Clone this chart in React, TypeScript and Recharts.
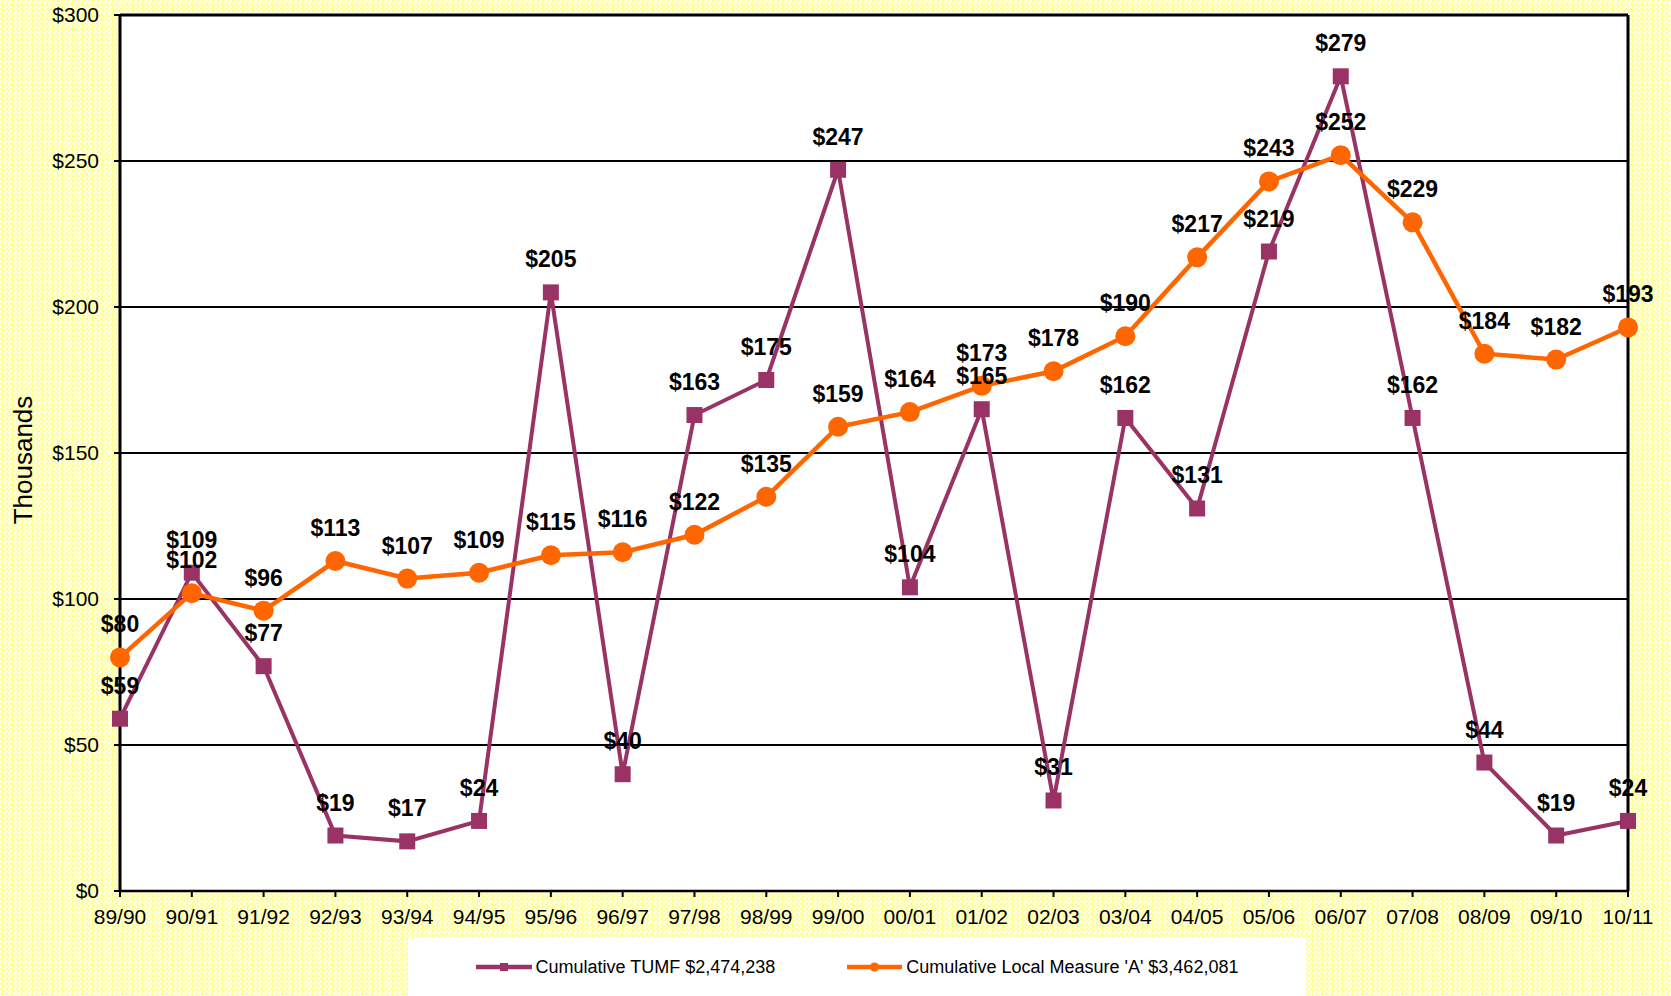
import React from 'react';
import {
  LineChart,
  Line,
  XAxis,
  YAxis,
  CartesianGrid,
  LabelList,
  Legend,
  ReferenceLine,
  Label,
} from 'recharts';

const categories = [
  '89/90', '90/91', '91/92', '92/93', '93/94', '94/95', '95/96', '96/97', '97/98', '98/99', '99/00',
  '00/01', '01/02', '02/03', '03/04', '04/05', '05/06', '06/07', '07/08', '08/09', '09/10', '10/11',
];
const tumfValues = [59, 109, 77, 19, 17, 24, 205, 40, 163, 175, 247, 104, 165, 31, 162, 131, 219, 279, 162, 44, 19, 24];
const localAValues = [80, 102, 96, 113, 107, 109, 115, 116, 122, 135, 159, 164, 173, 178, 190, 217, 243, 252, 229, 184, 182, 193];
const yTicks = [0, 50, 100, 150, 200, 250, 300];
const tumfName = 'Cumulative TUMF $2,474,238';
const localName = "Cumulative Local Measure 'A' $3,462,081";

const TUMF_COLOR = '#993366';
const LOCAL_COLOR = '#FF6600';
const FONT = '"Liberation Sans", Arial, sans-serif';

const data = categories.map((c, i) => ({ cat: c, tumf: tumfValues[i], local: localAValues[i] }));

const SquareDot = (props: any) => {
  const { cx, cy, index } = props;
  if (cx == null || cy == null) return <g key={index} />;
  return <rect key={index} x={cx - 8} y={cy - 8} width={16} height={16} fill={TUMF_COLOR} />;
};

const LegendContent = () => (
  <div
    style={{
      width: '100%',
      height: '100%',
      background: '#ffffff',
      display: 'flex',
      alignItems: 'center',
      justifyContent: 'center',
      gap: 72,
      fontFamily: FONT,
      fontSize: 18,
      color: '#000',
    }}
  >
    <div style={{ display: 'flex', alignItems: 'center' }}>
      <svg width={56} height={14} style={{ marginRight: 4 }}>
        <line x1={0} y1={7} x2={56} y2={7} stroke={TUMF_COLOR} strokeWidth={4.5} />
        <rect x={24} y={3} width={8} height={8} fill={TUMF_COLOR} />
      </svg>
      <span>{tumfName}</span>
    </div>
    <div style={{ display: 'flex', alignItems: 'center' }}>
      <svg width={55} height={14} style={{ marginRight: 4 }}>
        <line x1={0} y1={7} x2={55} y2={7} stroke={LOCAL_COLOR} strokeWidth={4.5} />
        <circle cx={27.5} cy={7} r={4.5} fill={LOCAL_COLOR} />
      </svg>
      <span>{localName}</span>
    </div>
  </div>
);

const labelStyle = { fontWeight: 'bold' as const, fontSize: 23, fontFamily: FONT };

export default function App() {
  return (
    <div
      style={{
        position: 'absolute',
        left: 0,
        top: 0,
        width: 1671,
        height: 996,
        background: 'repeating-conic-gradient(#ffff99 0% 25%, #ffffe8 0% 50%) 0 0 / 5px 5px',
        fontFamily: FONT,
        overflow: 'hidden',
      }}
    >
      <LineChart
        width={1671}
        height={996}
        data={data}
        margin={{ top: 15, right: 43, bottom: 65, left: 0 }}
        style={{ fontFamily: FONT }}
      >
        <CartesianGrid vertical={false} stroke="#000" strokeWidth={2} fill="#ffffff" fillOpacity={1} />
        <XAxis
          dataKey="cat"
          interval={0}
          height={40}
          tickSize={6}
          tickMargin={12}
          axisLine={{ stroke: '#000', strokeWidth: 2.5 }}
          tickLine={{ stroke: '#000', strokeWidth: 2 }}
          tick={{ fill: '#000', fontSize: 21, fontFamily: FONT }}
        />
        <YAxis
          domain={[0, 300]}
          ticks={yTicks}
          width={120}
          tickSize={6}
          tickMargin={15}
          tickFormatter={(v: number) => `$${v}`}
          axisLine={{ stroke: '#000', strokeWidth: 3 }}
          tickLine={{ stroke: '#000', strokeWidth: 2 }}
          tick={{ fill: '#000', fontSize: 21, fontFamily: FONT }}
        >
          <Label
            content={(props: any) => {
              const vb = props.viewBox || { x: 0, y: 15, width: 120, height: 876 };
              const x = 22.5;
              const y = vb.y + vb.height / 2 + 7;
              return (
                <text
                  x={x}
                  y={y}
                  transform={`rotate(-90, ${x}, ${y})`}
                  textAnchor="middle"
                  dominantBaseline="central"
                  fontSize={26}
                  fontFamily={FONT}
                  fill="#000"
                >
                  Thousands
                </text>
              );
            }}
          />
        </YAxis>
        <ReferenceLine y={300} stroke="#000" strokeWidth={3} />
        <ReferenceLine x="10/11" stroke="#000" strokeWidth={3} />
        <Legend
          layout="horizontal"
          verticalAlign="middle"
          align="center"
          content={() => <LegendContent />}
          wrapperStyle={{ position: 'absolute', left: 408, top: 938, width: 898, height: 58 }}
        />
        <Line
          type="linear"
          dataKey="tumf"
          name={tumfName}
          stroke={TUMF_COLOR}
          strokeWidth={4}
          dot={SquareDot}
          activeDot={false}
          isAnimationActive={false}
        >
          <LabelList
            dataKey="tumf"
            position="top"
            offset={25}
            formatter={(v: any) => `$${v}`}
            fill="#000"
            style={labelStyle}
          />
        </Line>
        <Line
          type="linear"
          dataKey="local"
          name={localName}
          stroke={LOCAL_COLOR}
          strokeWidth={4.5}
          dot={{ r: 10, fill: LOCAL_COLOR, stroke: LOCAL_COLOR, strokeWidth: 0 }}
          activeDot={false}
          isAnimationActive={false}
        >
          <LabelList
            dataKey="local"
            position="top"
            offset={25}
            formatter={(v: any) => `$${v}`}
            fill="#000"
            style={labelStyle}
          />
        </Line>
      </LineChart>
    </div>
  );
}
